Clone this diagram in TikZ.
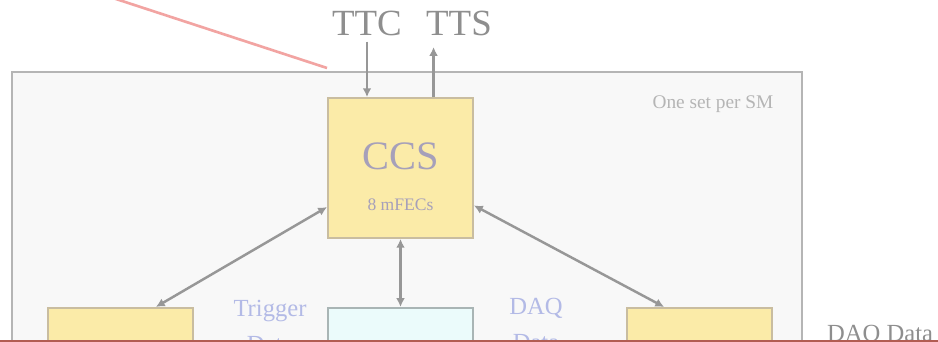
\documentclass[tikz,border=0pt]{standalone}
\usepackage{fontspec}
\setmainfont{Liberation Serif}
\usetikzlibrary{arrows.meta,positioning,calc}

\definecolor{framefill}{HTML}{F8F8F8}
\definecolor{frameline}{HTML}{B5B5B5}
\definecolor{unitfill}{HTML}{FBEBA8}
\definecolor{unitline}{HTML}{C9BDA0}
\definecolor{daqfill}{HTML}{EBFBFB}
\definecolor{daqline}{HTML}{A9B5B5}
\definecolor{linkgray}{HTML}{979797}
\definecolor{ccstext}{HTML}{A6A0BA}
\definecolor{flowtext}{HTML}{B3BAE6}
\definecolor{toptext}{HTML}{8E8E8E}
\definecolor{pointer}{HTML}{F2A4A2}
\definecolor{edgered}{HTML}{B25C52}

\begin{document}
\begin{tikzpicture}[
  x=0.02cm, y=-0.02cm,
  node distance=1.36cm and 2.66cm,
  unit/.style={draw=unitline, line width=1.1pt, fill=unitfill, minimum width=2.9cm, minimum height=2.8cm, inner sep=0pt},
  daq/.style={draw=daqline, line width=1.1pt, fill=daqfill, minimum width=2.9cm, minimum height=2.8cm, inner sep=0pt},
  frame/.style={draw=frameline, line width=1.1pt, fill=framefill},
  link/.style={-{Latex[length=5pt,width=5pt]}, draw=linkgray, line width=1.4pt},
  both/.style={{Latex[length=5pt,width=5pt]}-{Latex[length=5pt,width=5pt]}, draw=linkgray, line width=1.4pt},
  flow/.style={text=flowtext, align=center, font=\fontsize{14}{20}\selectfont, anchor=base}
]
\useasboundingbox (0,0) rectangle (938,342);
\clip (0,0) rectangle (938,342);
\fill[white] (0,0) rectangle (938,342);

% one set per SM
\draw[frame] (12,72) rectangle (802,420);
\node[text=frameline, font=\fontsize{11}{13}\selectfont] (perSM) at (713,104) {One set per SM};

% boxes
\node[unit, text=ccstext, font=\fontsize{23}{23}\selectfont, text height=14pt, text depth=12pt] (ccs) at (400.5,168) {CCS};
\node[text=ccstext, font=\fontsize{10}{12}\selectfont, anchor=base] (mfec) at ([yshift=0.56cm]ccs.south) {8 mFECs};
\node[daq, below=of ccs] (central) {};
\node[unit, left=of central] (leftunit) {};
\node[unit, right=3.04cm of central] (rightunit) {};

% TTC / TTS
\node[text=toptext, font=\fontsize{21}{21}\selectfont, anchor=base] (ttc) at (367,35) {TTC};
\node[text=toptext, font=\fontsize{21}{21}\selectfont, anchor=base] (tts) at (459,35) {TTS};
\draw[link] (ttc.south) -- (ttc.south |- ccs.north);
\draw[link] ($(ccs.north)!0.45!(ccs.north east)$) -- ++(0,-50);

% links to the lower boxes
\draw[both] (ccs.208) -- ($(leftunit.north west)!0.74!(leftunit.north east)$);
\draw[both] (ccs.south) -- (central.north);
\draw[both] (ccs.333) -- ($(rightunit.north west)!0.26!(rightunit.north east)$);

\node[flow] (trig) at (270,352) {Trigger\\Data};
\node[flow] (daqdata) at (536,350) {DAQ\\Data};
\node[text=toptext, font=\fontsize{14}{16}\selectfont, anchor=base west] (daqout) at (821,341) {DAQ Data};

% pointer line and lower edge
\coordinate (ptrA) at (113,-2);
\coordinate (ptrB) at (327,68);
\draw[pointer, line width=1.5pt] (ptrA) -- (ptrB);
\draw[edgered, line width=1.2pt] (0,341.3) -- (938,341.3);
\end{tikzpicture}
\end{document}
